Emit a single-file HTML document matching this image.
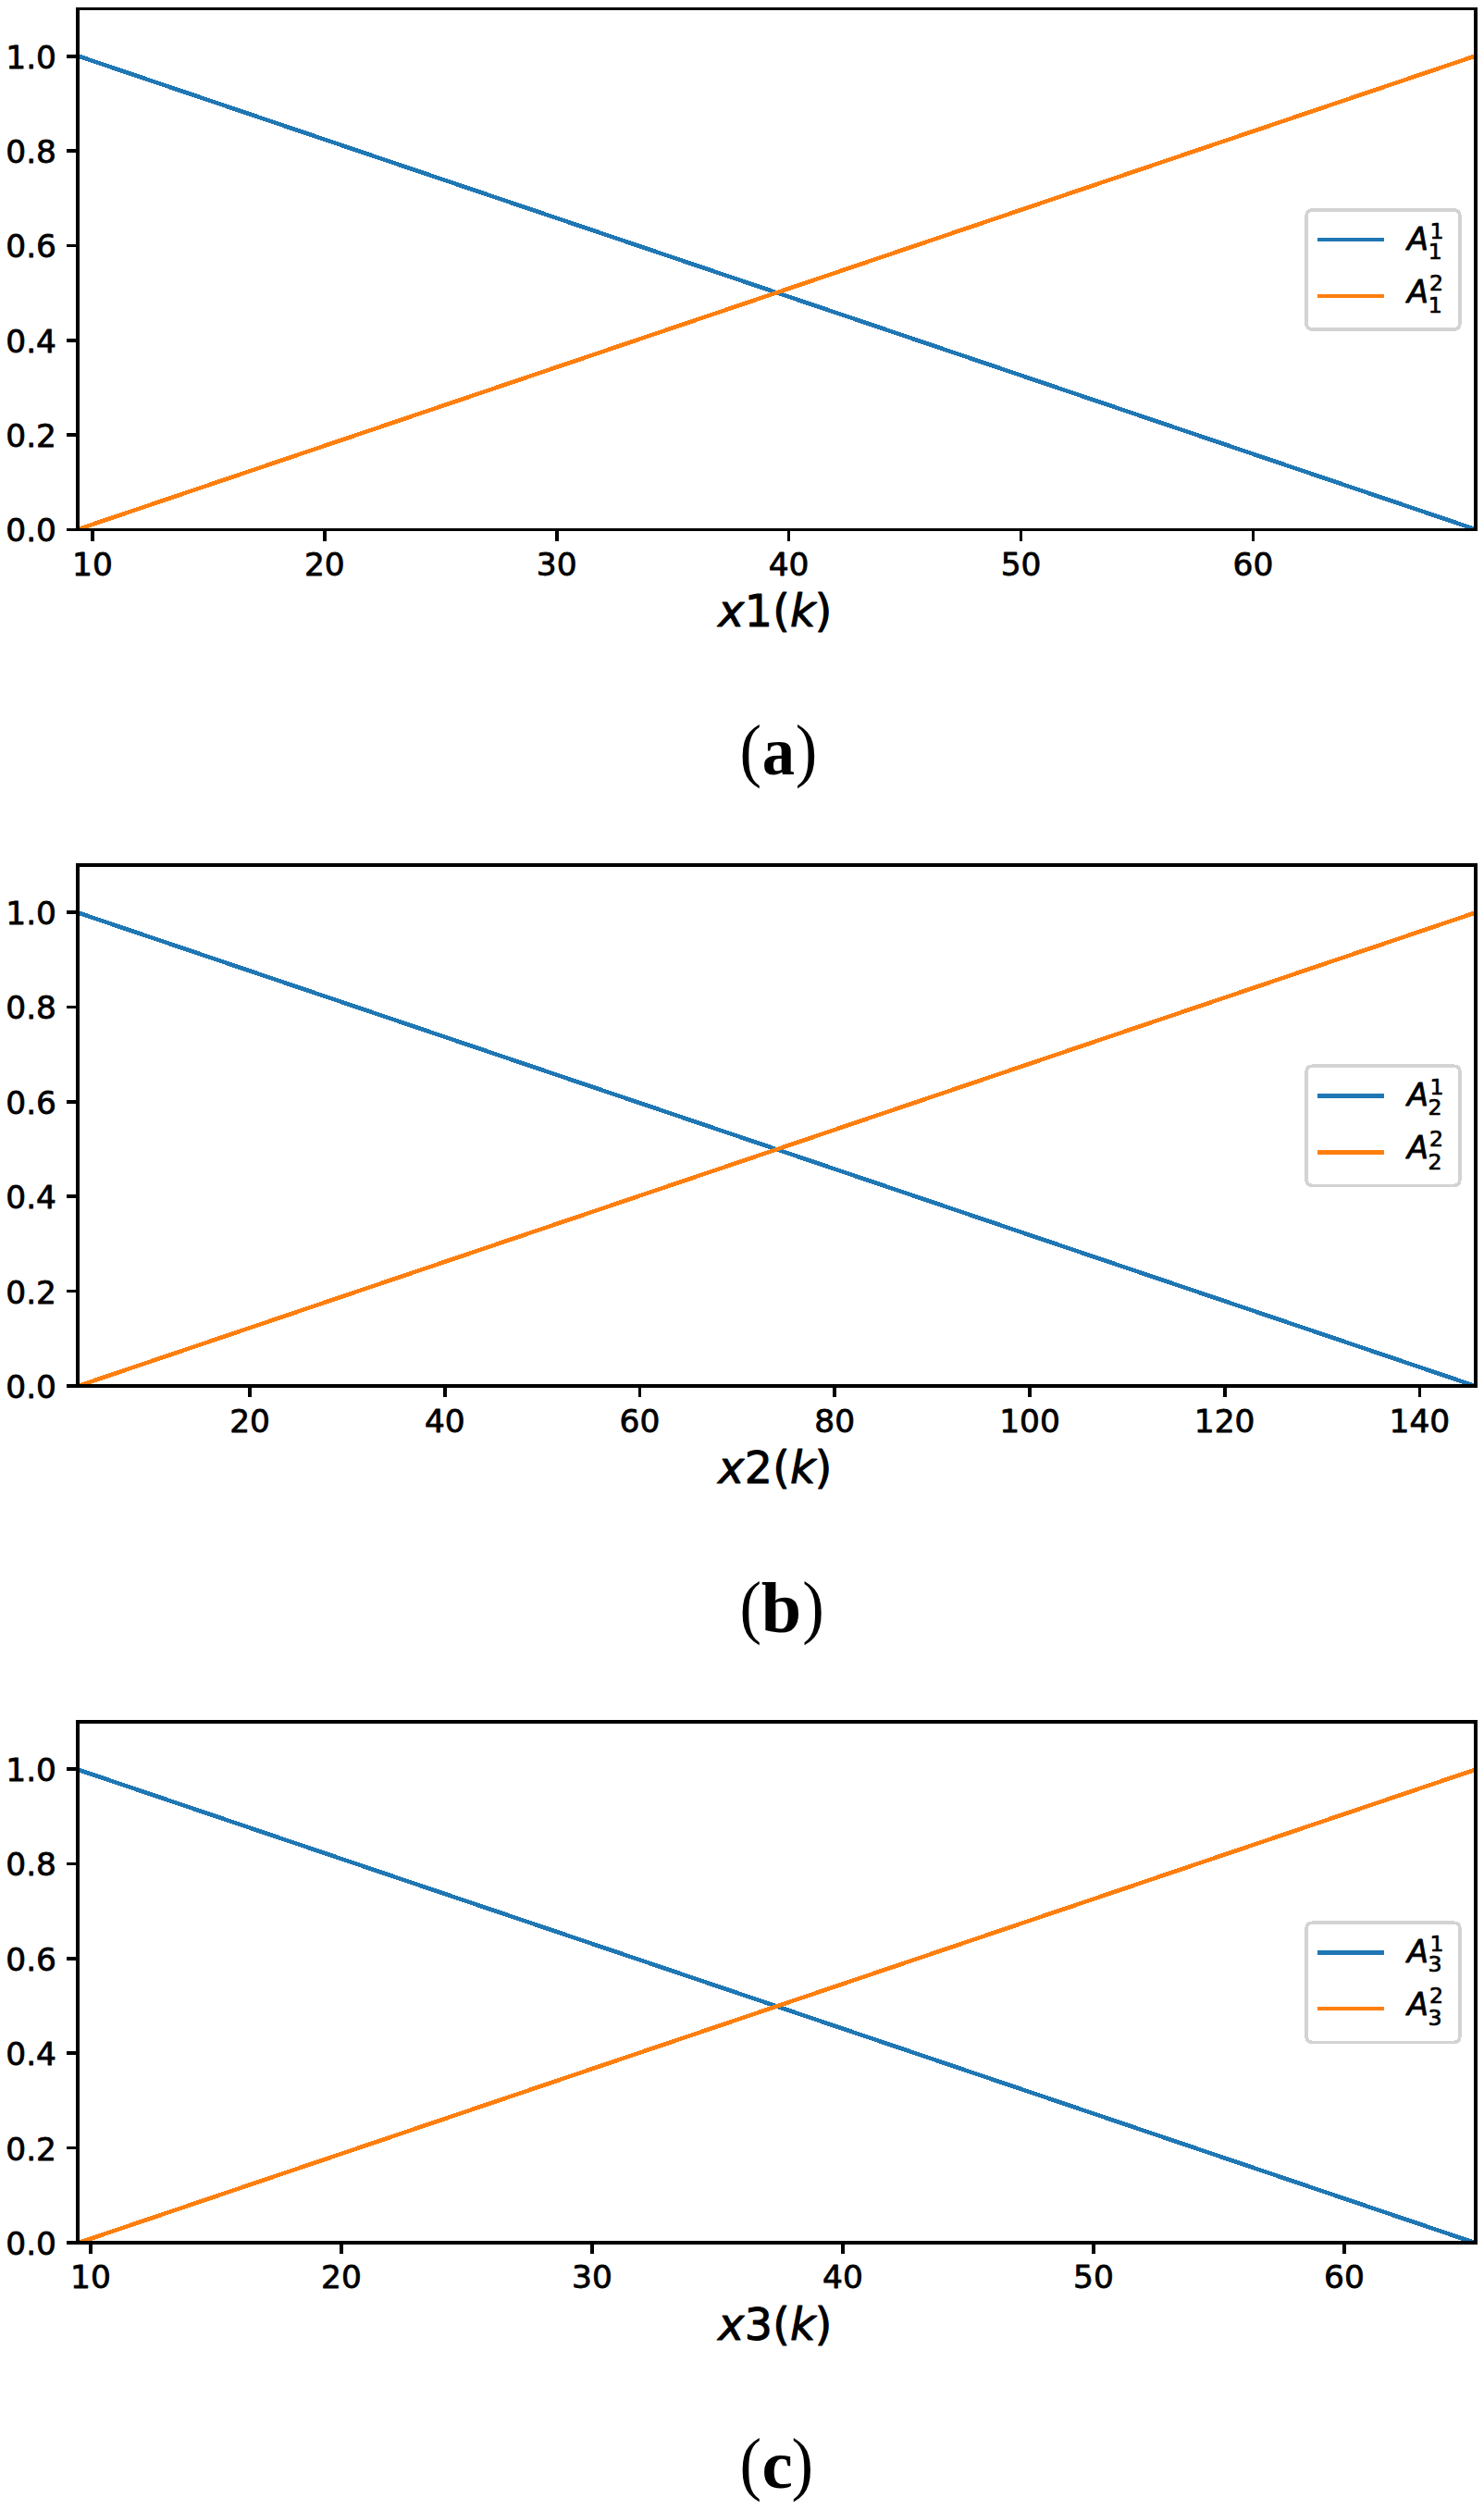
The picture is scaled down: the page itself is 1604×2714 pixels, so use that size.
<!DOCTYPE html>
<html lang="en"><head><meta charset="utf-8"><title>Membership functions</title>
<style>
html,body{margin:0;padding:0;background:#fff}
svg{display:block}
text{font-family:"DejaVu Sans","Liberation Sans",sans-serif;fill:#000}
.t,.x{stroke:#000;stroke-width:.8px;stroke-linejoin:round}
.x{stroke-width:1px}
.t{font-size:34.4px}
.x{font-size:47.4px}
.i{font-style:oblique}
.la{font-size:33.6px;font-style:oblique;stroke:#000;stroke-width:.8px;stroke-linejoin:round}
.ls{font-size:23.6px;stroke:#000;stroke-width:.7px;stroke-linejoin:round}
.cp{font-family:"Liberation Serif","DejaVu Serif",serif;font-size:76.5px}
.cb{font-family:"Liberation Serif","DejaVu Serif",serif;font-weight:bold}
.sp,.tk,.lb,.lo,.lg{shape-rendering:crispEdges}
.sp{fill:none;stroke:#000;stroke-width:3.4}
.tk{stroke:#000;stroke-width:3.7}
.lb{stroke:#1f77b4;stroke-width:4.6;fill:none}
.lo{stroke:#ff7f0e;stroke-width:4.6;fill:none}
.lg{fill:#fff;fill-opacity:.8;stroke:#d3d3d3;stroke-width:3.6}
</style></head><body>
<svg width="1604" height="2714" viewBox="0 0 1604 2714">
<rect width="1604" height="2714" fill="#fff"/>
<defs><clipPath id="ax"><rect x="84" y="9.5" width="1511" height="563"/></clipPath></defs>
<g transform="translate(0 0)">
<g clip-path="url(#ax)"><g transform="translate(0 -0.3)">
<line class="lb" x1="84" y1="60.68" x2="1595" y2="572.5"/>
<line class="lo" x1="84" y1="572.5" x2="1595" y2="60.68"/>
</g></g>
<line class="tk" x1="72" y1="572.5" x2="84" y2="572.5"/>
<text class="t" text-anchor="end" x="61" y="585.4">0.0</text>
<line class="tk" x1="72" y1="470.14" x2="84" y2="470.14"/>
<text class="t" text-anchor="end" x="61" y="483.04">0.2</text>
<line class="tk" x1="72" y1="367.77" x2="84" y2="367.77"/>
<text class="t" text-anchor="end" x="61" y="380.67">0.4</text>
<line class="tk" x1="72" y1="265.41" x2="84" y2="265.41"/>
<text class="t" text-anchor="end" x="61" y="278.31">0.6</text>
<line class="tk" x1="72" y1="163.05" x2="84" y2="163.05"/>
<text class="t" text-anchor="end" x="61" y="175.95">0.8</text>
<line class="tk" x1="72" y1="60.68" x2="84" y2="60.68"/>
<text class="t" text-anchor="end" x="61" y="73.58">1.0</text>
<line class="tk" x1="99.9" y1="572.5" x2="99.9" y2="584.5"/>
<text class="t" text-anchor="middle" x="99.9" y="622.2">10</text>
<line class="tk" x1="350.8" y1="572.5" x2="350.8" y2="584.5"/>
<text class="t" text-anchor="middle" x="350.8" y="622.2">20</text>
<line class="tk" x1="601.7" y1="572.5" x2="601.7" y2="584.5"/>
<text class="t" text-anchor="middle" x="601.7" y="622.2">30</text>
<line class="tk" x1="852.6" y1="572.5" x2="852.6" y2="584.5"/>
<text class="t" text-anchor="middle" x="852.6" y="622.2">40</text>
<line class="tk" x1="1103.6" y1="572.5" x2="1103.6" y2="584.5"/>
<text class="t" text-anchor="middle" x="1103.6" y="622.2">50</text>
<line class="tk" x1="1354.5" y1="572.5" x2="1354.5" y2="584.5"/>
<text class="t" text-anchor="middle" x="1354.5" y="622.2">60</text>
<rect class="sp" x="84" y="9.5" width="1511" height="563"/>
<text class="x" y="676.8"><tspan class="i" x="776.3">x</tspan><tspan x="804.71">1</tspan><tspan x="835.24">(</tspan><tspan class="i" x="853.97">k</tspan><tspan x="880.77">)</tspan></text>
<path class="lg" d="M1418.9 226.9H1571.1Q1578 226.9 1578 233.8V349.2Q1578 356.1 1571.1 356.1H1418.9Q1412 356.1 1412 349.2V233.8Q1412 226.9 1418.9 226.9Z"/>
<line class="lb" x1="1423.8" y1="259" x2="1496" y2="259"/>
<line class="lo" x1="1423.8" y1="320" x2="1496" y2="320"/>
<text><tspan class="la" x="1521.1" y="270.4">A</tspan><tspan class="ls" x="1543.75" y="279.55">1</tspan><tspan class="ls" x="1545.55" y="257.55">1</tspan></text>
<text><tspan class="la" x="1521.1" y="327.4">A</tspan><tspan class="ls" x="1543.75" y="337.75">1</tspan><tspan class="ls" x="1545.05" y="314.45">2</tspan></text>
<text class="cp" transform="translate(799.6 836.3) scale(.924 1)">(</text>
<text class="cb" style="font-size:75px" transform="translate(823.73 837.2) scale(0.94 1)">a</text>
<text class="cp" transform="translate(859.7 836.3) scale(.924 1)">)</text>
</g>
<g transform="translate(0 925.5)">
<g clip-path="url(#ax)"><g transform="translate(0 0.2)">
<line class="lb" x1="84" y1="60.68" x2="1595" y2="572.5"/>
<line class="lo" x1="84" y1="572.5" x2="1595" y2="60.68"/>
</g></g>
<line class="tk" x1="72" y1="572.5" x2="84" y2="572.5"/>
<text class="t" text-anchor="end" x="61" y="585.4">0.0</text>
<line class="tk" x1="72" y1="470.14" x2="84" y2="470.14"/>
<text class="t" text-anchor="end" x="61" y="483.04">0.2</text>
<line class="tk" x1="72" y1="367.77" x2="84" y2="367.77"/>
<text class="t" text-anchor="end" x="61" y="380.67">0.4</text>
<line class="tk" x1="72" y1="265.41" x2="84" y2="265.41"/>
<text class="t" text-anchor="end" x="61" y="278.31">0.6</text>
<line class="tk" x1="72" y1="163.05" x2="84" y2="163.05"/>
<text class="t" text-anchor="end" x="61" y="175.95">0.8</text>
<line class="tk" x1="72" y1="60.68" x2="84" y2="60.68"/>
<text class="t" text-anchor="end" x="61" y="73.58">1.0</text>
<line class="tk" x1="270.1" y1="572.5" x2="270.1" y2="584.5"/>
<text class="t" text-anchor="middle" x="270.1" y="622.3">20</text>
<line class="tk" x1="480.8" y1="572.5" x2="480.8" y2="584.5"/>
<text class="t" text-anchor="middle" x="480.8" y="622.3">40</text>
<line class="tk" x1="691.5" y1="572.5" x2="691.5" y2="584.5"/>
<text class="t" text-anchor="middle" x="691.5" y="622.3">60</text>
<line class="tk" x1="902.2" y1="572.5" x2="902.2" y2="584.5"/>
<text class="t" text-anchor="middle" x="902.2" y="622.3">80</text>
<line class="tk" x1="1113" y1="572.5" x2="1113" y2="584.5"/>
<text class="t" text-anchor="middle" x="1113" y="622.3">100</text>
<line class="tk" x1="1323.7" y1="572.5" x2="1323.7" y2="584.5"/>
<text class="t" text-anchor="middle" x="1323.7" y="622.3">120</text>
<line class="tk" x1="1534.4" y1="572.5" x2="1534.4" y2="584.5"/>
<text class="t" text-anchor="middle" x="1534.4" y="622.3">140</text>
<rect class="sp" x="84" y="9.5" width="1511" height="563"/>
<text class="x" y="677.5"><tspan class="i" x="776.3">x</tspan><tspan x="804.71">2</tspan><tspan x="835.24">(</tspan><tspan class="i" x="853.97">k</tspan><tspan x="880.77">)</tspan></text>
<path class="lg" d="M1418.9 226.7H1571.1Q1578 226.7 1578 233.6V349Q1578 355.9 1571.1 355.9H1418.9Q1412 355.9 1412 349V233.6Q1412 226.7 1418.9 226.7Z"/>
<line class="lb" x1="1423.8" y1="259" x2="1496" y2="259"/>
<line class="lo" x1="1423.8" y1="320" x2="1496" y2="320"/>
<text><tspan class="la" x="1521.1" y="269.9">A</tspan><tspan class="ls" x="1543.6" y="279.9">2</tspan><tspan class="ls" x="1545.55" y="257.05">1</tspan></text>
<text><tspan class="la" x="1521.1" y="326.9">A</tspan><tspan class="ls" x="1543.6" y="338.1">2</tspan><tspan class="ls" x="1545.05" y="313.95">2</tspan></text>
<text class="cp" transform="translate(799.6 836.3) scale(.924 1)">(</text>
<text class="cb" style="font-size:78px" transform="translate(822.8 838) scale(1 1)">b</text>
<text class="cp" transform="translate(867.3 836.3) scale(.924 1)">)</text>
</g>
<g transform="translate(0 1851.5)">
<g clip-path="url(#ax)"><g transform="translate(0 0.4)">
<line class="lb" x1="84" y1="60.68" x2="1595" y2="572.5"/>
<line class="lo" x1="84" y1="572.5" x2="1595" y2="60.68"/>
</g></g>
<line class="tk" x1="72" y1="572.5" x2="84" y2="572.5"/>
<text class="t" text-anchor="end" x="61" y="585.4">0.0</text>
<line class="tk" x1="72" y1="470.14" x2="84" y2="470.14"/>
<text class="t" text-anchor="end" x="61" y="483.04">0.2</text>
<line class="tk" x1="72" y1="367.77" x2="84" y2="367.77"/>
<text class="t" text-anchor="end" x="61" y="380.67">0.4</text>
<line class="tk" x1="72" y1="265.41" x2="84" y2="265.41"/>
<text class="t" text-anchor="end" x="61" y="278.31">0.6</text>
<line class="tk" x1="72" y1="163.05" x2="84" y2="163.05"/>
<text class="t" text-anchor="end" x="61" y="175.95">0.8</text>
<line class="tk" x1="72" y1="60.68" x2="84" y2="60.68"/>
<text class="t" text-anchor="end" x="61" y="73.58">1.0</text>
<line class="tk" x1="98" y1="572.5" x2="98" y2="584.5"/>
<text class="t" text-anchor="middle" x="98" y="621.6">10</text>
<line class="tk" x1="369" y1="572.5" x2="369" y2="584.5"/>
<text class="t" text-anchor="middle" x="369" y="621.6">20</text>
<line class="tk" x1="640" y1="572.5" x2="640" y2="584.5"/>
<text class="t" text-anchor="middle" x="640" y="621.6">30</text>
<line class="tk" x1="910.9" y1="572.5" x2="910.9" y2="584.5"/>
<text class="t" text-anchor="middle" x="910.9" y="621.6">40</text>
<line class="tk" x1="1181.9" y1="572.5" x2="1181.9" y2="584.5"/>
<text class="t" text-anchor="middle" x="1181.9" y="621.6">50</text>
<line class="tk" x1="1452.9" y1="572.5" x2="1452.9" y2="584.5"/>
<text class="t" text-anchor="middle" x="1452.9" y="621.6">60</text>
<rect class="sp" x="84" y="9.5" width="1511" height="563"/>
<text class="x" y="677.8"><tspan class="i" x="776.3">x</tspan><tspan x="804.71">3</tspan><tspan x="835.24">(</tspan><tspan class="i" x="853.97">k</tspan><tspan x="880.77">)</tspan></text>
<path class="lg" d="M1418.9 226.7H1571.1Q1578 226.7 1578 233.6V349Q1578 355.9 1571.1 355.9H1418.9Q1412 355.9 1412 349V233.6Q1412 226.7 1418.9 226.7Z"/>
<line class="lb" x1="1423.8" y1="259" x2="1496" y2="259"/>
<line class="lo" x1="1423.8" y1="319.5" x2="1496" y2="319.5"/>
<text><tspan class="la" x="1521.1" y="269.9">A</tspan><tspan class="ls" x="1543.55" y="279.3">3</tspan><tspan class="ls" x="1545.55" y="257.05">1</tspan></text>
<text><tspan class="la" x="1521.1" y="326.9">A</tspan><tspan class="ls" x="1543.55" y="337.5">3</tspan><tspan class="ls" x="1545.05" y="313.95">2</tspan></text>
<text class="cp" transform="translate(799.6 836.3) scale(.924 1)">(</text>
<text class="cb" style="font-size:75px" transform="translate(823.4 837.6) scale(1 1)">c</text>
<text class="cp" transform="translate(855.6 836.3) scale(.924 1)">)</text>
</g>
</svg>
</body></html>
